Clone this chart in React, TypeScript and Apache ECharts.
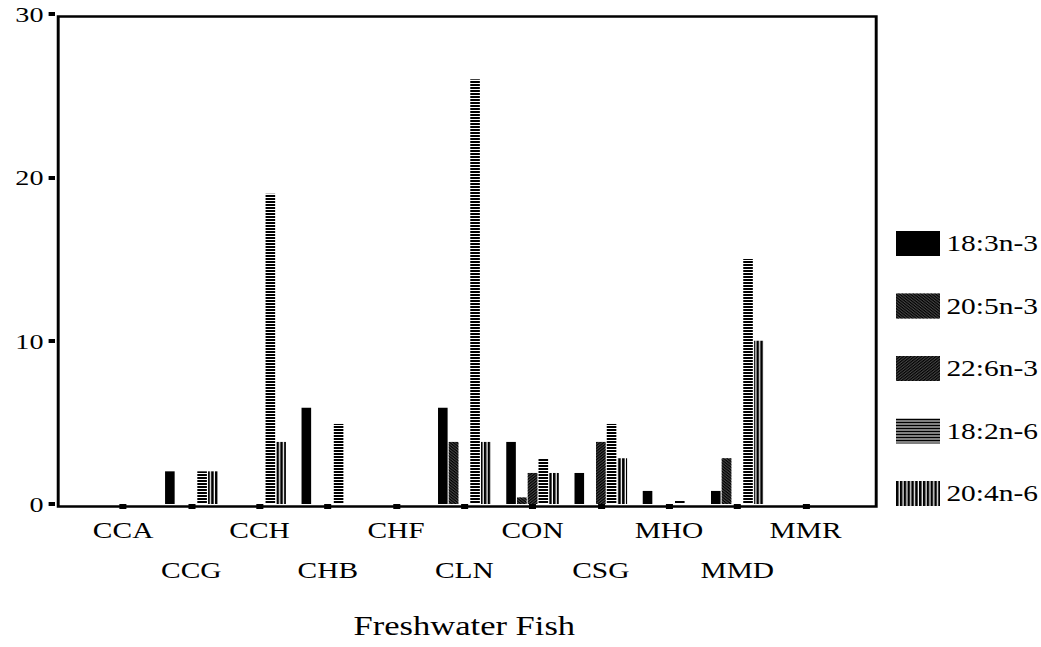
import React, { useEffect, useRef } from "react";
import * as echarts from "echarts";

const categories = ["CCA", "CCG", "CCH", "CHB", "CHF", "CLN", "CON", "CSG", "MHO", "MMD", "MMR"];
const seriesNames = ["18:3n-3", "20:5n-3", "22:6n-3", "18:2n-6", "20:4n-6"];
const s18_3n3 = [0, 2, 0, 5.9, 0, 5.9, 3.8, 1.9, 0.8, 0.8, 0];
const s20_5n3 = [0, 0, 0, 0, 0, 3.8, 0.4, 0, 0, 2.8, 0];
const s22_6n3 = [0, 0, 0, 0, 0, 0, 1.9, 3.8, 0, 0, 0];
const s18_2n6 = [0, 2, 19, 4.9, 0, 26, 2.8, 4.9, 0.2, 15, 0];
const s20_4n6 = [0, 2, 3.8, 0, 0, 3.8, 1.9, 2.8, 0, 10, 0];
const yMin = 0;
const yMax = 30;
const yInterval = 10;
const xTitle = "Freshwater Fish";

const S = 1.28; // horizontal stretch of the reference
const W = 1041 / S;
const H = 647;
const FONT = "Liberation Serif";

export default function App() {
  const ref = useRef<HTMLDivElement>(null);
  useEffect(() => {
    if (!ref.current) return;
    const chart = echarts.init(ref.current, undefined, { renderer: "svg" });
    const values = [s18_3n3, s20_5n3, s22_6n3, s18_2n6, s20_4n6];
    const styles: any[] = [
      { color: "#000" },
      {
        color: "#444",
        decal: { symbol: "rect", symbolSize: 1, color: "#000", dashArrayX: [1, 0], dashArrayY: [1, 1], rotation: Math.PI / 4 },
      },
      {
        color: "#444",
        decal: { symbol: "rect", symbolSize: 1, color: "#000", dashArrayX: [1, 0], dashArrayY: [1, 1], rotation: -Math.PI / 4 },
      },
      {
        color: "#fff",
        decal: { symbol: "rect", symbolSize: 1, color: "#000", dashArrayX: [1, 0], dashArrayY: [2, 1], rotation: 0 },
      },
      {
        color: "#fff",
        decal: { symbol: "rect", symbolSize: 1, color: "#000", dashArrayX: [2, 1], dashArrayY: [1, 0], rotation: 0 },
      },
    ];
    const frameLeft = 55 / S;
    const frameRight = 873 / S;
    const gridLeft = 89 / S;
    const gridRight = W - 840 / S;
    chart.setOption({
      animation: false,
      backgroundColor: "#fff",
      textStyle: { fontFamily: FONT, color: "#000" },
      grid: { left: gridLeft, right: gridRight, top: 14, bottom: H - 504 },
      legend: {
        orient: "vertical",
        left: 896 / S,
        top: 231,
        padding: 0,
        itemWidth: 44 / S,
        itemHeight: 25,
        itemGap: 37.5,
        icon: "rect",
        data: seriesNames,
        textStyle: { fontFamily: FONT, fontSize: 23, color: "#000" },
      },
      xAxis: {
        type: "category",
        data: categories,
        axisLine: { show: false },
        axisTick: { show: true, alignWithLabel: true, length: 5, lineStyle: { color: "#000", width: 5.5 } },
        axisLabel: {
          interval: 0,
          hideOverlap: false,
          margin: 6,
          fontFamily: FONT,
          fontSize: 23,
          color: "#000",
          lineHeight: 40,
          formatter: (v: string, i: number) => (i % 2 === 1 ? "\n" + v : v),
        },
        name: xTitle,
        nameLocation: "middle",
        nameGap: 108,
        nameTextStyle: { fontFamily: FONT, fontSize: 27, color: "#000" },
        splitLine: { show: false },
      },
      yAxis: {
        type: "value",
        min: yMin,
        max: yMax,
        interval: yInterval,
        offset: gridLeft - frameLeft,
        axisLine: { show: false },
        axisTick: { show: true, length: 5, lineStyle: { color: "#000", width: 4 } },
        axisLabel: { margin: 9, fontFamily: FONT, fontSize: 22, color: "#000" },
        splitLine: { show: false },
      },
      graphic: [
        {
          type: "rect",
          left: frameLeft,
          top: 14,
          shape: { x: 0, y: 0, width: frameRight - frameLeft, height: 490 },
          style: { fill: "none", stroke: "#000", lineWidth: 2.3 },
          silent: true,
          z: 10,
        },
      ],
      series: seriesNames.map((name, k) => ({
        name,
        type: "bar",
        data: values[k],
        barWidth: 7.5,
        barGap: "12%",
        itemStyle: styles[k],
      })),
    });
    return () => chart.dispose();
  }, []);
  return (
    <div
      ref={ref}
      style={{
        position: "fixed",
        left: 0,
        top: 0,
        width: W,
        height: H,
        transform: `scaleX(${S})`,
        transformOrigin: "0 0",
      }}
    />
  );
}
